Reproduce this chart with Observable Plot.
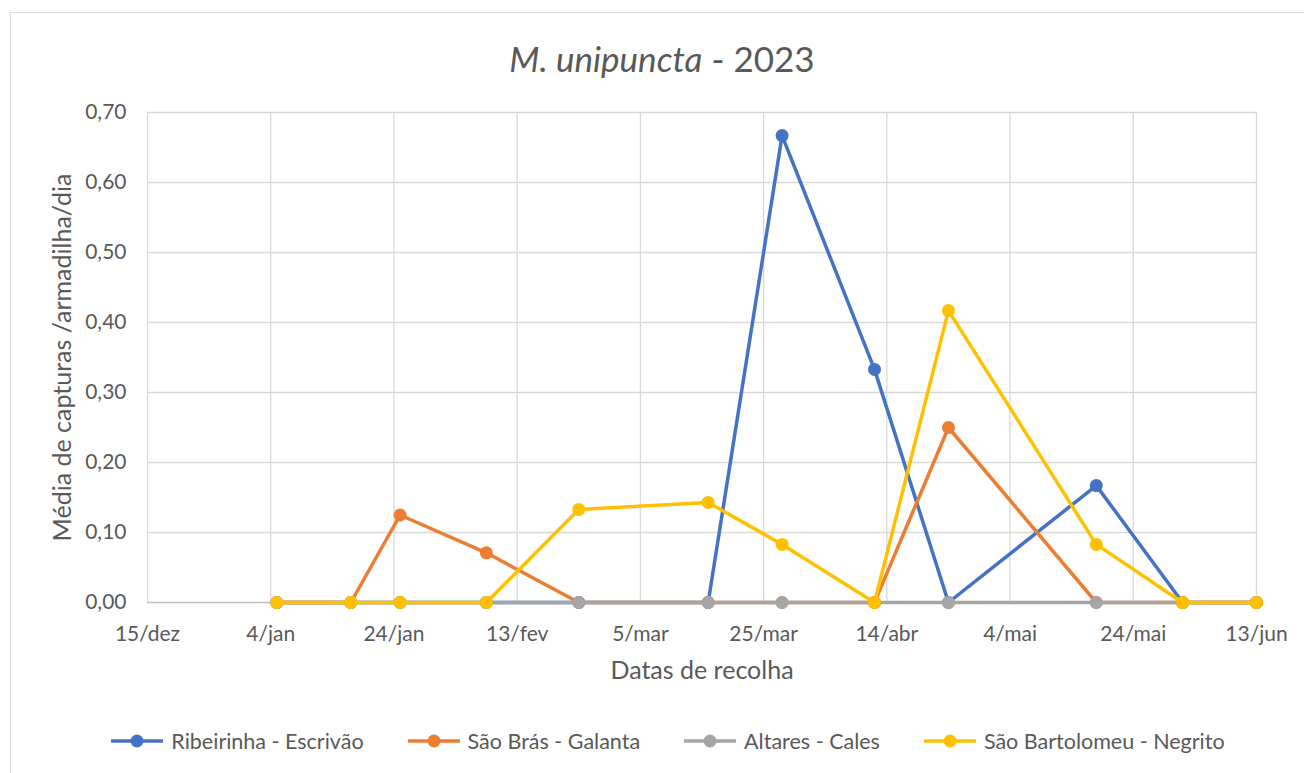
<!DOCTYPE html>
<html>
<head>
<meta charset="utf-8">
<script src="https://cdn.jsdelivr.net/npm/d3@7"></script>
<script src="https://cdn.jsdelivr.net/npm/@observablehq/plot@0.6"></script>
<style>
  body { margin: 0; background: #fff; font-family: Lato, "Open Sans", sans-serif; color: #595959; }
  #frame { position: absolute; left: 10px; top: 12px; width: 1294px; height: 761px; border: 1px solid #d9d9d9; box-sizing: border-box; border-right: none; border-bottom: none; }
  #title { position: absolute; left: 0; top: 38px; width: 1324px; text-align: center; font-size: 35px; line-height: 40px; color: #595959; }
  #chart { position: absolute; left: 0; top: 95px; }
  #legend { position: absolute; top: 728px; left: 15px; width: 1304px; display: flex; justify-content: center; gap: 42px; font-size: 21.5px; color: #595959; }
  .item { display: flex; align-items: center; gap: 6px; }
</style>
</head>
<body>
<div id="frame"></div>
<div id="title"><i>M. unipuncta</i> - 2023</div>
<div id="chart"></div>
<div id="legend"></div>
<script>
const dates = ["2023-01-05","2023-01-17","2023-01-25","2023-02-08","2023-02-23","2023-03-16","2023-03-28","2023-04-12","2023-04-24","2023-05-18","2023-06-01","2023-06-13"];
const seriesNames = ["Ribeirinha - Escrivão","São Brás - Galanta","Altares - Cales","São Bartolomeu - Negrito"];
const ribeirinha = [0,0,0,0,0,0,0.667,0.333,0,0.167,0,0];
const saoBras    = [0,0,0.125,0.071,0,0,0,0,0.25,0,0,0];
const altares    = [0,0,0,0,0,0,0,0,0,0,0,0];
const saoBartolomeu = [0,0,0,0,0.133,0.143,0.083,0,0.417,0.083,0,0];
const colors = ["#4472C4","#ED7D31","#A5A5A5","#FFC000"];
const xTickDates = ["2022-12-15","2023-01-04","2023-01-24","2023-02-13","2023-03-05","2023-03-25","2023-04-14","2023-05-04","2023-05-24","2023-06-13"];
const monthNames = ["jan","fev","mar","abr","mai","jun","jul","ago","set","out","nov","dez"];
const yTicks = [0,0.1,0.2,0.3,0.4,0.5,0.6,0.7];
const xLabel = "Datas de recolha";
const yLabel = "Média de capturas /armadilha/dia";

const parse = s => new Date(s + "T00:00:00Z");
const xTicks = xTickDates.map(parse);
const allSeries = [ribeirinha, saoBras, altares, saoBartolomeu];
const data = allSeries.map((vals, i) => vals.map((v, j) => ({date: parse(dates[j]), value: v, series: seriesNames[i]})));

const marks = [
  Plot.ruleX(xTicks, {stroke: "#d9d9d9", strokeWidth: 1.3}),
  Plot.ruleY(yTicks.slice(1), {stroke: "#d9d9d9", strokeWidth: 1.3}),
  Plot.ruleY([0], {stroke: "#bfbfbf", strokeWidth: 1.3}),
  Plot.axisX({ticks: xTicks, tickSize: 0, tickPadding: 24, tickFormat: d => d.getUTCDate() + "/" + monthNames[d.getUTCMonth()], fontSize: 21, label: null}),
  Plot.axisY({ticks: yTicks, tickSize: 0, tickPadding: 21, tickFormat: d => d.toFixed(2).replace(".", ","), fontSize: 21, label: null}),
  Plot.text([xLabel], {frameAnchor: "bottom", dy: 76, fontSize: 25, fill: "#595959"}),
  Plot.text([yLabel], {frameAnchor: "left", textAnchor: "middle", dx: -85, rotate: -90, fontSize: 25, fill: "#595959"})
];
data.forEach((d, i) => {
  marks.push(Plot.line(d, {x: "date", y: "value", stroke: colors[i], strokeWidth: 3.5}));
  marks.push(Plot.dot(d, {x: "date", y: "value", fill: colors[i], r: 6.5, stroke: "none"}));
});

const chart = Plot.plot({
  width: 1304,
  height: 615,
  marginLeft: 147,
  marginRight: 48,
  marginTop: 17,
  marginBottom: 108,
  style: {fontFamily: "Lato, 'Open Sans', sans-serif", color: "#595959", fontSize: "21px", background: "transparent", overflow: "visible"},
  x: {type: "utc", domain: [parse("2022-12-15"), parse("2023-06-13")]},
  y: {domain: [0, 0.7]},
  marks
});
document.getElementById("chart").appendChild(chart);

const legend = document.getElementById("legend");
seriesNames.forEach((name, i) => {
  const item = document.createElement("div");
  item.className = "item";
  item.innerHTML = `<svg width="56" height="16"><line x1="2" x2="54" y1="8" y2="8" stroke="${colors[i]}" stroke-width="3.5"/><circle cx="28" cy="8" r="6.5" fill="${colors[i]}"/></svg><span>${name}</span>`;
  legend.appendChild(item);
});
</script>
</body>
</html>
